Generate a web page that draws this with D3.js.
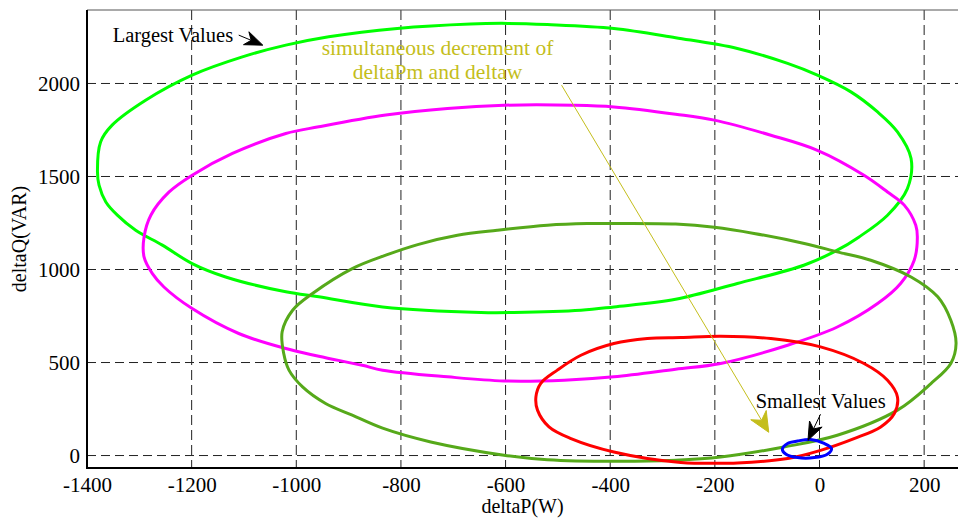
<!DOCTYPE html>
<html>
<head>
<meta charset="utf-8">
<script src="https://cdn.jsdelivr.net/npm/d3@7"></script>
<style>
  html, body { margin: 0; padding: 0; background: #fff; }
  svg { display: block; }
  text { font-family: "Liberation Serif", "Times New Roman", serif; }
</style>
</head>
<body>
<svg id="chart" width="958" height="518"></svg>
<script>
// ---------------- DATA ----------------
const xTicks = [-1400, -1200, -1000, -800, -600, -400, -200, 0, 200];
const yTicks = [0, 500, 1000, 1500, 2000];
const xLabel = "deltaP(W)";
const yLabel = "deltaQ(VAR)";

// [deltaP (W), deltaQ (VAR)]
const largestLoop = [
  [-1380,1525],[-1377,1453],[-1364,1363],[-1342,1292],[-1307,1211],[-1256,1131],
  [-1199,1032],[-1135,960],[-1020,880],[-957,853],[-835,799],[-647,769],[-584,769],
  [-456,781],[-393,799],[-275,840],[-157,925],[-30,1023],[34,1104],[75,1174],
  [130,1292],[168,1435],[175,1597],[149,1740],[111,1847],[60,1955],[-4,2045],
  [-61,2108],[-157,2188],[-275,2246],[-393,2296],[-520,2317],[-596,2323],[-667,2320],
  [-807,2296],[-938,2251],[-1020,2206],[-1103,2143],[-1199,2045],[-1288,1910],
  [-1352,1776],[-1374,1686]
];
const secondLoop = [
  [-829,1830],[-957,1767],[-1020,1731],[-1122,1624],[-1199,1507],[-1243,1417],
  [-1278,1292],[-1291,1174],[-1291,1068],[-1275,978],[-1253,906],[-1199,790],
  [-1110,656],[-1020,575],[-957,534],[-874,485],[-835,459],[-711,423],[-603,401],
  [-488,405],[-393,423],[-275,464],[-189,495],[-61,593],[34,691],[111,817],
  [155,925],[181,1050],[187,1174],[184,1238],[162,1346],[130,1417],[85,1507],
  [-4,1641],[-93,1722],[-201,1803],[-275,1835],[-393,1874],[-469,1883],[-603,1883],
  [-711,1866]
];
const thirdLoop = [
  [-829,1077],[-893,1005],[-969,871],[-1007,781],[-1027,665],[-1024,548],[-1014,459],
  [-988,369],[-944,280],[-893,217],[-835,147],[-743,73],[-603,2],[-520,-22],
  [-393,-31],[-275,-25],[-189,-8],[-68,46],[34,109],[149,244],[213,387],[251,495],
  [261,602],[251,727],[226,853],[175,960],[98,1050],[34,1095],[-29,1140],[-125,1194],
  [-201,1227],[-275,1244],[-399,1247],[-444,1247],[-520,1238],[-616,1211],[-692,1184],
  [-768,1134]
];
const fourthLoop = [
  [-265,634],[-329,629],[-393,602],[-456,539],[-501,459],[-533,387],[-542,315],
  [-539,244],[-517,154],[-475,91],[-393,19],[-265,-38],[-227,-41],[-157,-40],
  [-61,-16],[2,28],[66,91],[117,154],[143,226],[149,315],[130,405],[85,495],
  [2,584],[-93,629],[-189,641]
];
const smallestLoop = [
  [-71,34],[-61,65],[-42,78],[-17,86],[9,65],[23,38],[15,7],[-10,-11],[-42,-11],[-64,7]
];
const seriesNames = ["largest", "second", "third", "fourth", "smallest"];
const seriesData = [largestLoop, secondLoop, thirdLoop, fourthLoop, smallestLoop];
const seriesColors = ["#00ff00", "#ff00ff", "#56a91a", "#ff0000", "#0000ff"];

// annotations (in data units)
const noteLargest = { text: "Largest Values", at: [-1351, 2222], from: [-1110, 2260], to: [-1064, 2206] };
const noteSmallest = { text: "Smallest Values", at: [-122, 254], from: [2, 222], to: [-22, 82] };
const noteTrend = { lines: ["simultaneous decrement of", "deltaPm and deltaw"], at: [-730, 2152], lineGap: 130, from: [-493, 1991], to: [-97, 125] };

// ---------------- CHART ----------------
const svg = d3.select("#chart");
const L = 87, R = 966, T = 10, B = 468;
const x = d3.scaleLinear().domain([-1400, 280]).range([L, R]);
const y = d3.scaleLinear().domain([-67, 2395]).range([B, T]);

// grid
const grid = svg.append("g");
grid.selectAll("line.vg").data(xTicks).join("line")
  .attr("x1", d => x(d)).attr("x2", d => x(d))
  .attr("y1", T).attr("y2", B)
  .attr("stroke", "#222").attr("stroke-width", 1).attr("stroke-dasharray", "10,5");
grid.selectAll("line.hg").data(yTicks).join("line")
  .attr("x1", L).attr("x2", R)
  .attr("y1", d => y(d)).attr("y2", d => y(d))
  .attr("stroke", "#222").attr("stroke-width", 1).attr("stroke-dasharray", "9,5");

// frame
svg.append("line").attr("x1", L).attr("x2", R).attr("y1", T).attr("y2", T)
  .attr("stroke", "#555").attr("stroke-width", 1);
svg.append("line").attr("x1", R).attr("x2", R).attr("y1", T).attr("y2", B)
  .attr("stroke", "#555").attr("stroke-width", 1);

// axes
const xAxis = d3.axisBottom(x).tickValues(xTicks).tickSize(0).tickPadding(9).tickFormat(d3.format("d"));
const yAxis = d3.axisLeft(y).tickValues(yTicks).tickSize(0).tickPadding(7).tickFormat(d3.format("d"));
const gx = svg.append("g").attr("transform", `translate(0,${B})`).call(xAxis);
const gy = svg.append("g").attr("transform", `translate(${L},0)`).call(yAxis);
[gx, gy].forEach(g => {
  g.select(".domain").remove();
  g.selectAll("text").attr("font-family", "Liberation Serif").attr("font-size", 21).attr("fill", "#000");
});
gx.selectAll("text").text(d => d < 0 ? "-" + Math.abs(d) : d);
gy.selectAll("text").attr("dy", "0.35em");

svg.append("line").attr("x1", L).attr("x2", L).attr("y1", T).attr("y2", B + 1)
  .attr("stroke", "#000").attr("stroke-width", 2);
svg.append("line").attr("x1", L - 1).attr("x2", R).attr("y1", B).attr("y2", B)
  .attr("stroke", "#000").attr("stroke-width", 2);

// axis labels
svg.append("text").attr("x", (L + 958) / 2).attr("y", 513).attr("text-anchor", "middle")
  .attr("font-size", 20).text(xLabel);
svg.append("text").attr("transform", `translate(26,${(T + B) / 2}) rotate(-90)`)
  .attr("text-anchor", "middle").attr("font-size", 20).text(yLabel);

// curves
const line = d3.line().x(d => x(d[0])).y(d => y(d[1])).curve(d3.curveCatmullRomClosed.alpha(0.5));
const curves = svg.append("g");
seriesData.forEach((s, i) => {
  curves.append("path").datum(s)
    .attr("class", seriesNames[i])
    .attr("d", line)
    .attr("fill", "none")
    .attr("stroke", seriesColors[i])
    .attr("stroke-width", 3)
    .attr("stroke-linejoin", "round");
});

// arrow helper
function arrow(g, from, to, color, width, headLen, headW, notch) {
  const x1 = x(from[0]), y1 = y(from[1]), x2 = x(to[0]), y2 = y(to[1]);
  const dx = x2 - x1, dy = y2 - y1, len = Math.hypot(dx, dy);
  const ux = dx / len, uy = dy / len, px = -uy, py = ux;
  const bx = x2 - ux * headLen, by = y2 - uy * headLen;
  const nx = x2 - ux * headLen * (1 - notch), ny = y2 - uy * headLen * (1 - notch);
  g.append("line").attr("x1", x1).attr("y1", y1).attr("x2", nx).attr("y2", ny)
    .attr("stroke", color).attr("stroke-width", width);
  g.append("path")
    .attr("d", `M${x2},${y2}L${bx + px * headW},${by + py * headW}L${nx},${ny}L${bx - px * headW},${by - py * headW}Z`)
    .attr("fill", color).attr("stroke", color).attr("stroke-width", 1).attr("stroke-linejoin", "miter");
}

const ann = svg.append("g");
ann.append("text").attr("x", x(noteLargest.at[0])).attr("y", y(noteLargest.at[1]))
  .attr("font-size", 20.5).attr("fill", "#000").text(noteLargest.text);
arrow(ann, noteLargest.from, noteLargest.to, "#000", 1, 18, 7, 0.3);

ann.append("text").attr("x", x(noteSmallest.at[0])).attr("y", y(noteSmallest.at[1]))
  .attr("font-size", 20.5).attr("fill", "#000").text(noteSmallest.text);
arrow(ann, noteSmallest.from, noteSmallest.to, "#000", 1, 18, 7, 0.3);

noteTrend.lines.forEach((t, i) => {
  ann.append("text").attr("x", x(noteTrend.at[0])).attr("y", y(noteTrend.at[1] - i * noteTrend.lineGap))
    .attr("text-anchor", "middle").attr("font-size", 21.5).attr("fill", "#c4be1c").text(t);
});
arrow(ann, noteTrend.from, noteTrend.to, "#c4be1c", 1, 20, 9, 0.3);
</script>
</body>
</html>
